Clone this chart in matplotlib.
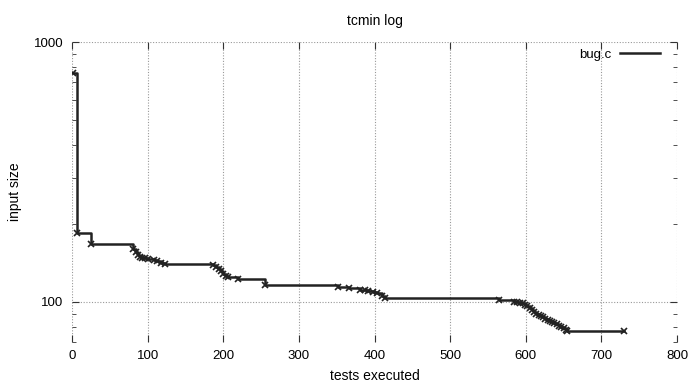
import matplotlib
matplotlib.use("Agg")
import matplotlib.pyplot as plt
from matplotlib.ticker import FixedLocator, NullFormatter, LogLocator

plt.rcParams['font.family'] = ['Liberation Sans', 'DejaVu Sans']

title = "tcmin log"
xlabel_text = "tests executed"
ylabel_text = "input size"
series_label = "bug.c"

tests = [1, 7, 25, 81, 84, 87, 90, 93, 97, 100, 108, 112, 118, 123,
         187, 190, 194, 197, 200, 203, 206, 220, 255,
         352, 366, 381, 387, 392, 398, 403, 410, 414,
         564, 584, 588, 592, 596, 599, 602, 605, 608, 611, 614, 617, 620,
         623, 626, 629, 632, 635, 638, 641, 644, 647, 650, 653, 655, 730]
sizes = [760, 184, 167, 160, 156, 152, 149, 148, 147, 146, 145, 143, 141, 140,
         139, 136, 134, 131, 128, 126, 124, 122, 116,
         114, 113, 111, 110.5, 110, 109, 108, 105, 103.5,
         102, 100, 99.5, 99, 98.5, 97.5, 96, 94.5, 93, 91.5, 90, 89, 88,
         87, 86, 85, 84.2, 83.4, 82.6, 81.8, 81, 80, 79, 78, 77.4, 77.4]

xticks = [0, 100, 200, 300, 400, 500, 600, 700, 800]
yticks = [100, 1000]

fig = plt.figure(figsize=(6.89, 3.83), dpi=100)
ax = fig.add_axes([72/689, 1-342/383, 605/689, 300/383])

ax.plot(tests, sizes, drawstyle='steps-post', color='#222222', lw=1.8, label=series_label)
ax.plot(tests, sizes, linestyle='none', marker='x', color='#222222', ms=5, mew=1.2)

ax.set_yscale('log')
ax.set_xlim(0, 800)
ax.set_ylim(70, 1000)
ax.set_xticks(xticks)
ax.set_xticklabels([str(t) for t in xticks])
ax.yaxis.set_major_locator(FixedLocator(yticks))
ax.set_yticklabels([str(t) for t in yticks])
ax.yaxis.set_minor_locator(LogLocator(base=10, subs=range(2, 10)))
ax.yaxis.set_minor_formatter(NullFormatter())

for s in ax.spines.values():
    s.set_visible(False)

ax.grid(True, which='major', color='#999999', linestyle=(0, (1, 1.5)), lw=0.8)
ax.tick_params(which='both', direction='in', top=True, right=True, labelsize=9.5, color='#333333', pad=6)
ax.tick_params(which='major', length=5)
ax.tick_params(which='minor', length=3)

ax.set_title(title, fontsize=10, pad=12)
ax.set_xlabel(xlabel_text, fontsize=10, labelpad=5)
ax.set_ylabel(ylabel_text, fontsize=10, labelpad=9)

ax.legend(loc='upper right', bbox_to_anchor=(0.972, 0.978), frameon=False, markerfirst=False,
          fontsize=9.5, handlelength=3.0, borderpad=0, borderaxespad=0, handletextpad=0.7)

fig.savefig('out.png', dpi=100)
